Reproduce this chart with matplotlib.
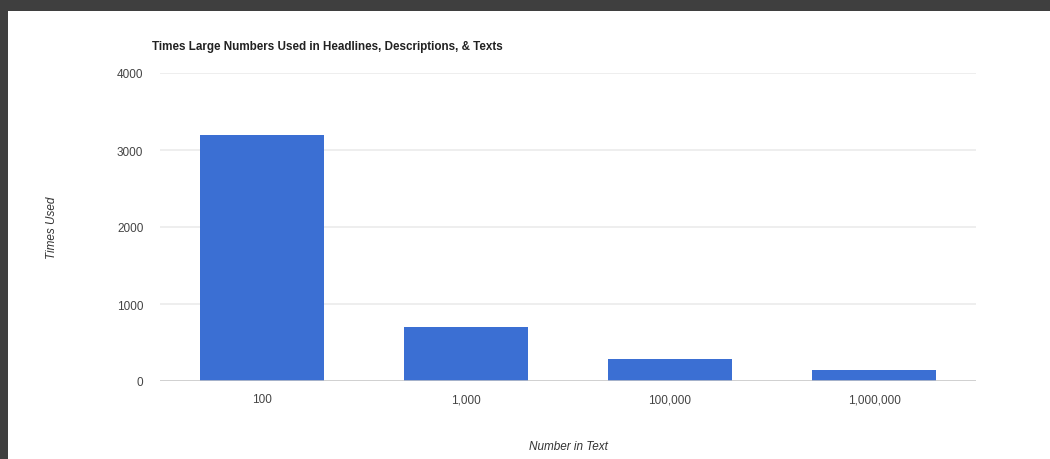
import matplotlib.pyplot as plt
from matplotlib.patches import Rectangle

# Counts per number size
categories = ["100", "1,000", "100,000", "1,000,000"]
times_used = [3200, 700, 285, 140]
y_ticks = [0, 1000, 2000, 3000, 4000]

plt.rcParams['font.family'] = ['Liberation Sans', 'DejaVu Sans']

fig = plt.figure(figsize=(10.5, 4.6), dpi=100)
fig.patch.set_facecolor('white')

# dark frame along the top and left edges
fig.patches.append(Rectangle((0, 1 - 12 / 460), 1, 12 / 460, transform=fig.transFigure,
                             facecolor='#3f3f3f', edgecolor='none', zorder=0))
fig.patches.append(Rectangle((0, 0), 8 / 1050, 1, transform=fig.transFigure,
                             facecolor='#3f3f3f', edgecolor='none', zorder=0))

ax = fig.add_axes([160 / 1050, 78 / 460, 816 / 1050, 308 / 460])
x = range(len(categories))
ax.bar(x, times_used, width=0.61, color='#3b6fd3', zorder=3)

ax.set_xlim(-0.5, len(categories) - 0.5)
ax.set_ylim(0, 4000)
ax.set_yticks(y_ticks)
ax.set_yticklabels([str(v) for v in y_ticks])
ax.set_xticks(list(x))
ax.set_xticklabels(categories)

ax.grid(axis='y', color='#ebebeb', linewidth=1.2, zorder=0)
ax.axhline(0, color='#c8c8c8', linewidth=1.8, zorder=4)
for s in ax.spines.values():
    s.set_visible(False)
ax.tick_params(length=0, labelsize=8.5, colors='#444444')
ax.tick_params(axis='y', pad=12)
ax.tick_params(axis='x', pad=9)

ax.set_xlabel("Number in Text", fontsize=8.5, style='italic', color='#333333')
ax.xaxis.set_label_coords(0.5, -0.19)
ax.set_ylabel("Times Used", fontsize=8.5, style='italic', color='#333333')
ax.yaxis.set_label_coords(-0.125, 0.5)

fig.text(152 / 1050, 1 - 47 / 460, "Times Large Numbers Used in Headlines, Descriptions, & Texts",
         fontsize=8.4, fontweight='bold', color='#222222', va='center', ha='left')

fig.savefig("out.png", dpi=100)
